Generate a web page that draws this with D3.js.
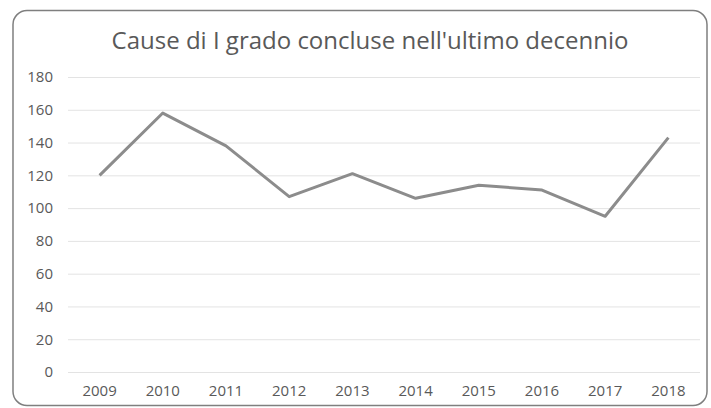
<!DOCTYPE html>
<html><head><meta charset="utf-8">
<script src="https://cdn.jsdelivr.net/npm/d3@7/dist/d3.min.js"></script>
<style>html,body{margin:0;padding:0;background:#fff;}svg{display:block;}</style>
</head><body>
<script>
const years = ["2009","2010","2011","2012","2013","2014","2015","2016","2017","2018"];
const values = [120,158,138,107,121,106,114,111,95,143];
const yTicks = [0,20,40,60,80,100,120,140,160,180];
const title = "Cause di I grado concluse nell'ultimo decennio";

const W = 711, H = 408;
const svg = d3.select("body").append("svg").attr("width", W).attr("height", H);
svg.append("rect").attr("x",13).attr("y",10.5).attr("width",694).attr("height",395)
  .attr("rx",14).attr("fill","#fff").attr("stroke","#7f7f7f").attr("stroke-width",1.5);

const x = d3.scaleBand().domain(years).range([68,700]);
const y = d3.scaleLinear().domain([0,180]).range([372,77]);
const font = "'Open Sans', sans-serif";

svg.append("text").attr("x",370).attr("y",49).attr("text-anchor","middle")
  .attr("font-family",font).attr("font-size",24).attr("fill","#595959").text(title);

const gy = svg.append("g").attr("transform","translate(68,0)")
  .call(d3.axisLeft(y).tickValues(yTicks).tickSize(-632).tickPadding(15));
gy.select(".domain").remove();
gy.selectAll("line").attr("stroke","#e3e3e3").attr("stroke-width",1);
gy.selectAll("text").attr("font-family",font).attr("font-size",15).attr("fill","#595959");

const gx = svg.append("g").attr("transform","translate(0,372)")
  .call(d3.axisBottom(x).tickSize(0).tickPadding(13));
gx.select(".domain").remove();
gx.selectAll("text").attr("font-family",font).attr("font-size",15).attr("fill","#595959");

const line = d3.line().x((d,i)=>x(years[i])+x.bandwidth()/2).y(d=>y(d));
svg.append("path").datum(values).attr("d",line).attr("fill","none")
  .attr("stroke","#8c8c8c").attr("stroke-width",3).attr("stroke-linejoin","round");
</script>
</body></html>
